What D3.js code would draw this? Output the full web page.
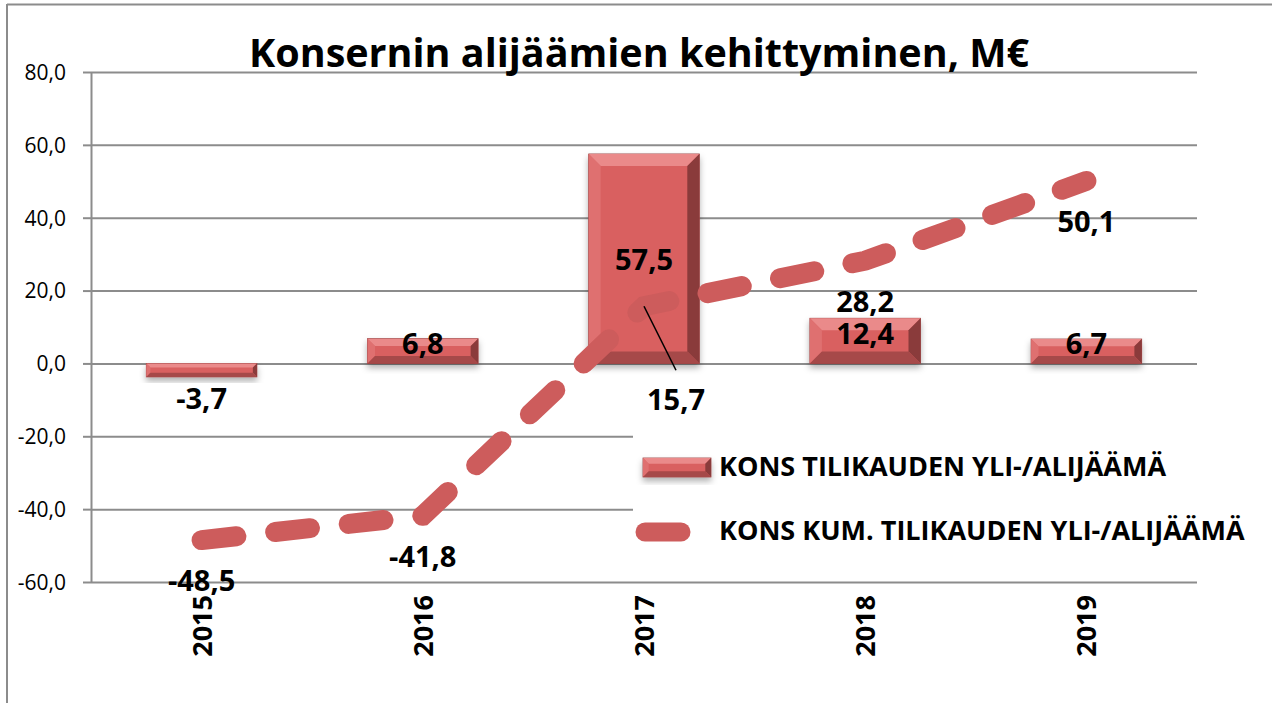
<!DOCTYPE html>
<html>
<head>
<meta charset="utf-8">
<title>Konsernin alijäämien kehittyminen</title>
<script src="https://d3js.org/d3.v7.min.js"></script>
<style>
  body { margin: 0; background: #fff; }
  svg { display: block; font-family: "Open Sans", Lato, sans-serif; }
  .grid line { stroke: #8c8c8c; stroke-width: 2; }
  .grid path { display: none; }
  .yaxis path { stroke: #8c8c8c; stroke-width: 2; }
  .yaxis line { stroke: #8c8c8c; stroke-width: 2; }
  .yaxis text { font-size: 21px; fill: #000; font-family: "Open Sans", sans-serif; }
  .lbl { font-weight: bold; font-size: 29px; fill: #000; text-anchor: middle; }
</style>
</head>
<body>
<script>
// data
var years = ['2015', '2016', '2017', '2018', '2019'];
var annual = [-3.7, 6.8, 57.5, 12.4, 6.7];          // KONS TILIKAUDEN YLI-/ALIJÄÄMÄ
var cumulative = [-48.5, -41.8, 15.7, 28.2, 50.1];  // KONS KUM. TILIKAUDEN YLI-/ALIJÄÄMÄ
var yTicks = [-60, -40, -20, 0, 20, 40, 60, 80];
var seriesNames = ['KONS TILIKAUDEN YLI-/ALIJÄÄMÄ', 'KONS KUM. TILIKAUDEN YLI-/ALIJÄÄMÄ'];
var chartTitle = 'Konsernin alijäämien kehittyminen, M€';

var W = 1272, H = 703;
var plotL = 91, plotR = 1197, plotT = 72, plotB = 582;
var barColor = '#d96161', lineColor = '#cd5c5c';

function fmt(v) { return v.toFixed(1).replace('.', ','); }

var svg = d3.select('body').append('svg').attr('width', W).attr('height', H);

var defs = svg.append('defs');
var f = defs.append('filter').attr('id', 'shadow')
    .attr('x', '-20%').attr('y', '-20%').attr('width', '140%').attr('height', '160%');
f.append('feDropShadow').attr('dx', 0).attr('dy', 4).attr('stdDeviation', 3)
    .attr('flood-color', '#000').attr('flood-opacity', 0.3);

// outer frame
svg.append('line').attr('x1', 7).attr('y1', 4.5).attr('x2', W).attr('y2', 4.5)
    .attr('stroke', '#8c8c8c').attr('stroke-width', 2);
svg.append('line').attr('x1', 7).attr('y1', 4).attr('x2', 7).attr('y2', H)
    .attr('stroke', '#8c8c8c').attr('stroke-width', 2);

var x = d3.scaleBand().domain(years).range([plotL, plotR]).paddingInner(0.5).paddingOuter(0.25);
var y = d3.scaleLinear().domain([-60, 80]).range([plotB, plotT]);

// gridlines
svg.append('g').attr('class', 'grid')
    .attr('transform', 'translate(' + plotL + ',0)')
    .call(d3.axisLeft(y).tickValues(yTicks).tickSize(-(plotR - plotL)).tickFormat(''));

// y axis
var ya = svg.append('g').attr('class', 'yaxis')
    .attr('transform', 'translate(' + plotL + ',0)')
    .call(d3.axisLeft(y).tickValues(yTicks).tickSize(8).tickSizeOuter(0).tickFormat(fmt));
ya.selectAll('text').attr('x', -25).attr('dy', '0.35em');

// title
svg.append('text').attr('x', 639).attr('y', 67).attr('text-anchor', 'middle')
    .style('font-weight', 'bold').style('font-size', '39.5px').text(chartTitle);

// bevelled bar
function bevelBar(g, x0, y0, w, h, bmax) {
    var x1 = x0 + w, y1 = y0 + h;
    var b = Math.min(bmax, h * 0.3, w * 0.3);
    var grp = g.append('g').attr('filter', 'url(#shadow)');
    grp.append('rect').attr('x', x0).attr('y', y0).attr('width', w).attr('height', h)
        .attr('fill', barColor).attr('stroke', '#9a4040').attr('stroke-width', 0.8);
    var polys = [
        [[x0, y0], [x1, y0], [x1 - b, y0 + b], [x0 + b, y0 + b], '#ea8a8a'],
        [[x0, y0], [x0 + b, y0 + b], [x0 + b, y1 - b], [x0, y1], '#df7070'],
        [[x1, y0], [x1, y1], [x1 - b, y1 - b], [x1 - b, y0 + b], '#8a3a3a'],
        [[x0, y1], [x1, y1], [x1 - b, y1 - b], [x0 + b, y1 - b], '#a64848']
    ];
    polys.forEach(function(p) {
        grp.append('polygon').attr('points', p.slice(0, 4).map(function(q) { return q.join(','); }).join(' '))
            .attr('fill', p[4]);
    });
}

var barsG = svg.append('g');
years.forEach(function(yr, i) {
    var v = annual[i];
    var y0 = Math.min(y(v), y(0)), h = Math.abs(y(v) - y(0));
    bevelBar(barsG, x(yr), y0, x.bandwidth(), h, 12);
});

// cumulative line
var cx = function(i) { return x(years[i]) + x.bandwidth() / 2; };
var line = d3.line().x(function(d, i) { return cx(i); }).y(function(d) { return y(d); });
svg.append('path').datum(cumulative).attr('d', line)
    .attr('fill', 'none').attr('stroke', lineColor).attr('stroke-width', 20)
    .attr('stroke-linecap', 'round').attr('stroke-dasharray', '35,39');

// bar labels
years.forEach(function(yr, i) {
    var v = annual[i];
    var h = Math.abs(y(v) - y(0));
    var ty = v < 0 ? y(v) + 32 : (y(v) + y(0)) / 2 + (h > 100 ? 11 : 3);
    svg.append('text').attr('class', 'lbl').attr('x', cx(i)).attr('y', ty).text(fmt(v));
});

// line labels (2017 label moved with a leader line)
cumulative.forEach(function(v, i) {
    var px = cx(i), py = y(v);
    if (years[i] === '2017') {
        svg.append('line').attr('x1', px).attr('y1', py).attr('x2', px + 32).attr('y2', py + 64)
            .attr('stroke', '#000').attr('stroke-width', 1.5);
        svg.append('text').attr('class', 'lbl').attr('x', px + 32).attr('y', py + 104).text(fmt(v));
    } else {
        svg.append('text').attr('class', 'lbl').attr('x', px).attr('y', py + 51).text(fmt(v));
    }
});

// x labels, rotated
years.forEach(function(yr, i) {
    svg.append('text').attr('class', 'lbl')
        .attr('transform', 'translate(' + (cx(i) + 10) + ',595) rotate(-90)')
        .style('text-anchor', 'end').style('font-size', '27px')
        .text(yr);
});

// legend
var lg = svg.append('g');
lg.append('rect').attr('x', 633).attr('y', 425).attr('width', W - 633).attr('height', 145).attr('fill', '#fff');
bevelBar(lg, 643, 458, 68, 19, 6);
lg.append('line').attr('x1', 645).attr('y1', 532).attr('x2', 681).attr('y2', 532)
    .attr('stroke', lineColor).attr('stroke-width', 19).attr('stroke-linecap', 'round');
lg.selectAll('text.leg').data(seriesNames).enter().append('text')
    .attr('x', 719).attr('y', function(d, i) { return i ? 540 : 476; })
    .style('font-weight', 'bold').style('font-size', '27px')
    .text(function(d) { return d; });
</script>
</body>
</html>
